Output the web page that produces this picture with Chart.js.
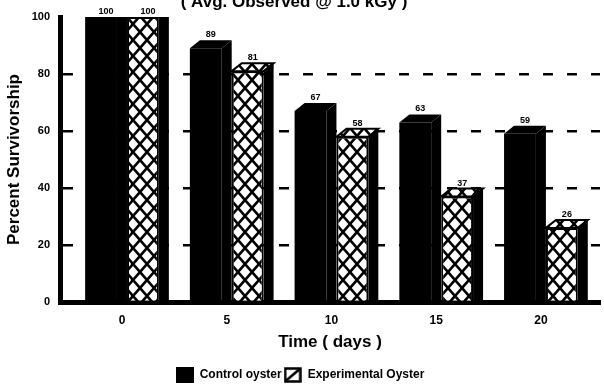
<!DOCTYPE html>
<html>
<head>
<meta charset="utf-8">
<script src="https://cdn.jsdelivr.net/npm/chart.js@4/dist/chart.umd.min.js"></script>
<style>
  html, body { margin: 0; padding: 0; background: #fff; }
  #wrap { width: 604px; height: 386px; position: relative; }
</style>
</head>
<body>
<div id="wrap"><canvas id="chart"></canvas></div>
<script>
// Oyster survivorship over storage time
const chartTitle = '( Avg. Observed @ 1.0 kGy )';
const days = [0, 5, 10, 15, 20];
const controlOyster = [100, 89, 67, 63, 59];
const experimentalOyster = [100, 81, 58, 37, 26];
const yTicks = [0, 20, 40, 60, 80, 100];
const seriesNames = ['Control oyster', 'Experimental Oyster'];
const yTitle = 'Percent Survivorship';
const xTitle = 'Time ( days )';

const FONT = "'Liberation Sans', Arial, Helvetica, sans-serif";
const DEPTH_X = 10;
const DEPTH_Y = -8;

// Cross-hatch fill used by the experimental series
function makeHatch() {
  const w = 14, h = 16;
  const c = document.createElement('canvas');
  c.width = w; c.height = h;
  const g = c.getContext('2d');
  g.fillStyle = '#fff';
  g.fillRect(0, 0, w, h);
  g.strokeStyle = '#000';
  g.lineWidth = 2.6;
  for (const ox of [-w, 0, w]) {
    g.beginPath();
    g.moveTo(ox, 0); g.lineTo(ox + w, h);
    g.moveTo(ox + w, 0); g.lineTo(ox, h);
    g.stroke();
  }
  return g.createPattern(c, 'repeat');
}

// Small swatches for the legend
function makeSwatch(kind) {
  const c = document.createElement('canvas');
  c.width = 18; c.height = 16;
  const g = c.getContext('2d');
  if (kind === 'solid') {
    g.fillStyle = '#000';
    g.fillRect(0, 0, 18, 16);
  } else {
    g.fillStyle = '#fff';
    g.fillRect(0, 0, 18, 16);
    g.strokeStyle = '#000';
    g.lineWidth = 2.5;
    g.strokeRect(1.5, 1.5, 15, 13);
    g.beginPath();
    g.moveTo(2, 14); g.lineTo(16, 2);
    g.stroke();
  }
  return c;
}

const hatch = makeHatch();
const swatches = [makeSwatch('solid'), makeSwatch('hatch')];

// Extruded top and side faces for each bar
const depthPlugin = {
  id: 'depth',
  afterDatasetsDraw(chart) {
    const { ctx, chartArea } = chart;
    ctx.save();
    ctx.beginPath();
    ctx.rect(chartArea.left, chartArea.top, chartArea.right - chartArea.left, chartArea.bottom - chartArea.top);
    ctx.clip();
    chart.data.datasets.forEach((ds, di) => {
      const meta = chart.getDatasetMeta(di);
      meta.data.forEach(bar => {
        const { x, y, base, width } = bar.getProps(['x', 'y', 'base', 'width'], true);
        const l = x - width / 2, r = x + width / 2;
        // top face
        ctx.beginPath();
        ctx.moveTo(l, y);
        ctx.lineTo(l + DEPTH_X, y + DEPTH_Y);
        ctx.lineTo(r + DEPTH_X, y + DEPTH_Y);
        ctx.lineTo(r, y);
        ctx.closePath();
        ctx.fillStyle = ds.backgroundColor;
        ctx.fill();
        if (di === 1) {
          ctx.strokeStyle = '#000';
          ctx.lineWidth = 2;
          ctx.stroke();
        }
        // side face
        ctx.beginPath();
        ctx.moveTo(r, y);
        ctx.lineTo(r + DEPTH_X, y + DEPTH_Y);
        ctx.lineTo(r + DEPTH_X, base);
        ctx.lineTo(r, base);
        ctx.closePath();
        ctx.fillStyle = '#000';
        ctx.fill();
      });
    });
    ctx.restore();
  }
};

// Value labels above the bars and the heading
const labelPlugin = {
  id: 'valueLabels',
  afterDraw(chart) {
    const { ctx, chartArea } = chart;
    ctx.save();
    ctx.fillStyle = '#000';
    ctx.textAlign = 'center';
    ctx.textBaseline = 'alphabetic';
    ctx.font = 'bold 9px ' + FONT;
    chart.data.datasets.forEach((ds, di) => {
      const meta = chart.getDatasetMeta(di);
      meta.data.forEach((bar, i) => {
        const { x, y } = bar.getProps(['x', 'y'], true);
        const topY = Math.max(y + DEPTH_Y, chartArea.top);
        ctx.fillText(String(ds.data[i].y), x + DEPTH_X / 2, topY - 3);
      });
    });
    ctx.font = 'bold 17px ' + FONT;
    ctx.fillText(chartTitle, 294, 7);
    ctx.restore();
  }
};

const tickFont = { family: FONT, size: 12, weight: 'bold' };

new Chart(document.getElementById('chart'), {
  type: 'bar',
  data: {
    datasets: [
      {
        label: seriesNames[0],
        data: days.map((d, i) => ({ x: d, y: controlOyster[i] })),
        backgroundColor: '#000',
        borderWidth: 0
      },
      {
        label: seriesNames[1],
        data: days.map((d, i) => ({ x: d, y: experimentalOyster[i] })),
        backgroundColor: hatch,
        borderColor: '#000',
        borderWidth: 2
      }
    ]
  },
  options: {
    responsive: true,
    maintainAspectRatio: false,
    animation: false,
    layout: { padding: { top: 17, right: 4, bottom: -5, left: 0 } },
    datasets: { bar: { categoryPercentage: 0.8, barPercentage: 0.76 } },
    plugins: {
      tooltip: { enabled: false },
      title: { display: false },
      legend: {
        position: 'bottom',
        labels: {
          color: '#000',
          font: { family: FONT, size: 12, weight: 'bold' },
          usePointStyle: true,
          pointStyleWidth: 18,
          padding: 2,
          generateLabels: (chart) => chart.data.datasets.map((ds, i) => ({
            text: ds.label,
            pointStyle: swatches[i],
            fillStyle: '#000',
            strokeStyle: '#000',
            lineWidth: 0,
            fontColor: '#000',
            hidden: false,
            datasetIndex: i
          }))
        }
      }
    },
    scales: {
      x: {
        type: 'linear',
        offset: false,
        min: -2.96,
        max: 22.82,
        afterBuildTicks: (s) => { s.ticks = days.map(v => ({ value: v })); },
        afterFit: (s) => { s.height = 65; },
        grid: { display: false, drawTicks: false, offset: false },
        border: { display: true, color: '#000', width: 5 },
        ticks: { color: '#000', padding: 11, font: tickFont },
        title: {
          display: true,
          text: xTitle,
          color: '#000',
          font: { family: FONT, size: 17, weight: 'bold' },
          padding: { top: 0, bottom: 14 }
        }
      },
      y: {
        min: 0,
        max: 100,
        afterBuildTicks: (s) => { s.ticks = yTicks.map(v => ({ value: v })); },
        afterFit: (s) => { s.width = 60; },
        grid: {
          drawTicks: false,
          color: (c) => (c.tick && c.tick.value > 0 && c.tick.value < 100) ? '#000' : 'rgba(0,0,0,0)',
          lineWidth: 2.5
        },
        border: { display: true, color: '#000', width: 5, dash: [10, 14] },
        ticks: { color: '#000', padding: 10, font: { family: FONT, size: 11, weight: 'bold' } },
        title: {
          display: true,
          text: yTitle,
          color: '#000',
          font: { family: FONT, size: 17, weight: 'bold' },
          padding: { top: 4, bottom: 0 }
        }
      }
    }
  },
  plugins: [depthPlugin, labelPlugin]
});
</script>
</body>
</html>
